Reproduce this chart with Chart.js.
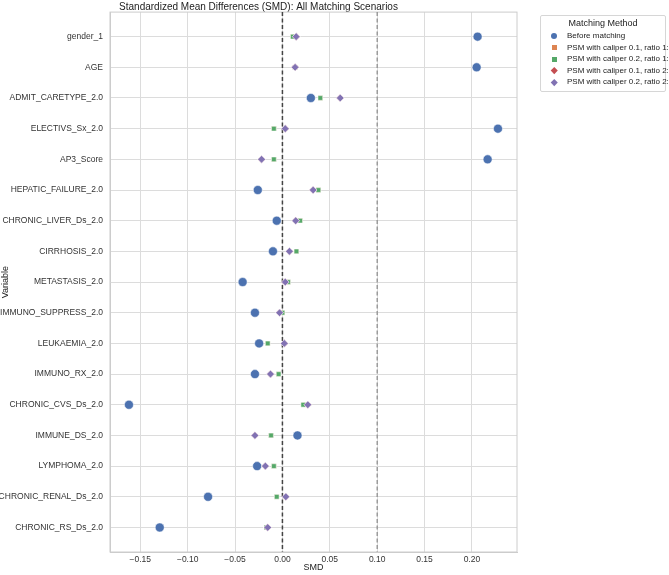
<!DOCTYPE html>
<html>
<head>
<meta charset="utf-8">
<script src="https://cdn.jsdelivr.net/npm/chart.js@4"></script>
<style>
  body { margin: 0; background: #fff; font-family: "Liberation Sans", Arial, sans-serif; }
  #wrap { position: relative; width: 669px; height: 575px; }
  #legend { position: absolute; left: 540px; top: 15px; width: 126px; border: 1px solid #d6d6d6; border-radius: 2px;
            font-family: "Liberation Sans", Arial, sans-serif; font-size: 8px; color: #222;
            padding: 2px 0 3px 0; background: #fff; box-sizing: border-box; }
  #legend .t { text-align: center; font-size: 9px; margin-bottom: 2px; }
  #legend .r { height: 11.6px; line-height: 11.6px; white-space: nowrap; }
  #legend .m { display: inline-block; width: 26px; text-align: center; vertical-align: middle; line-height: 0; }
</style>
</head>
<body>
<div id="wrap">
  <canvas id="smd_chart" width="669" height="575"></canvas>
  <div id="legend"></div>
</div>
<script>
const variables = ['gender_1', 'AGE', 'ADMIT_CARETYPE_2.0', 'ELECTIVS_Sx_2.0', 'AP3_Score', 'HEPATIC_FAILURE_2.0',
    'CHRONIC_LIVER_Ds_2.0', 'CIRRHOSIS_2.0', 'METASTASIS_2.0', 'IMMUNO_SUPPRESS_2.0', 'LEUKAEMIA_2.0',
    'IMMUNO_RX_2.0', 'CHRONIC_CVS_Ds_2.0', 'IMMUNE_DS_2.0', 'LYMPHOMA_2.0', 'CHRONIC_RENAL_Ds_2.0', 'CHRONIC_RS_Ds_2.0'];

const beforeMatching = [0.206, 0.205, 0.030, 0.2275, 0.2166, -0.026, -0.006, -0.010, -0.042, -0.029, -0.0246,
    -0.029, -0.162, 0.0159, -0.0267, -0.0785, -0.1295];
const cal01r11 = [0.011, 0.0134, 0.040, -0.009, -0.009, 0.038, 0.0187, 0.0148, 0.006, 0.000, -0.0155,
    -0.004, 0.022, -0.012, -0.009, -0.006, -0.017];
const cal02r11 = [0.011, 0.0134, 0.040, -0.009, -0.009, 0.038, 0.0187, 0.0148, 0.006, 0.000, -0.0155,
    -0.004, 0.022, -0.012, -0.009, -0.006, -0.017];
const cal01r21 = [0.0145, 0.0134, 0.061, 0.003, -0.022, 0.0324, 0.014, 0.0074, 0.003, -0.003, 0.002,
    -0.0126, 0.0268, -0.029, -0.018, 0.0036, -0.0155];
const cal02r21 = [0.0145, 0.0134, 0.061, 0.003, -0.022, 0.0324, 0.014, 0.0074, 0.003, -0.003, 0.002,
    -0.0126, 0.0268, -0.029, -0.018, 0.0036, -0.0155];

const xTicks = [-0.15, -0.10, -0.05, 0.00, 0.05, 0.10, 0.15, 0.20];

function toPoints(values) {
    return values.map((v, i) => ({ x: v, y: i }));
}

const series = [
    { label: 'Before matching', data: beforeMatching, color: '#4c72b0', style: 'circle', r: 4.5 },
    { label: 'PSM with caliper 0.1, ratio 1:1', data: cal01r11, color: '#dd8452', style: 'rect', r: 3.3 },
    { label: 'PSM with caliper 0.2, ratio 1:1', data: cal02r11, color: '#55a868', style: 'rect', r: 3.3 },
    { label: 'PSM with caliper 0.1, ratio 2:1', data: cal01r21, color: '#c44e52', style: 'rectRot', r: 3.8 },
    { label: 'PSM with caliper 0.2, ratio 2:1', data: cal02r21, color: '#8172b3', style: 'rectRot', r: 3.8 }
];

// dashed reference lines at 0 and 0.1, plus the full axes frame
const refLines = {
    id: 'refLines',
    beforeDatasetsDraw(chart) {
        const c = chart.ctx, a = chart.chartArea, x = chart.scales.x;
        c.save();
        c.strokeStyle = '#cccccc';
        c.lineWidth = 1;
        c.strokeRect(a.left, a.top, a.right - a.left, a.bottom - a.top);
        c.setLineDash([4, 2.5]);
        [[0, '#444', 1.5], [0.1, '#888', 1.2]].forEach(([v, col, w]) => {
            const px = x.getPixelForValue(v);
            c.strokeStyle = col;
            c.lineWidth = w;
            c.beginPath();
            c.moveTo(px, a.top);
            c.lineTo(px, a.bottom);
            c.stroke();
        });
        c.restore();
    }
};

const ctx = document.getElementById('smd_chart').getContext('2d');
new Chart(ctx, {
    type: 'scatter',
    data: {
        datasets: series.map((s, i) => ({
            label: s.label,
            data: toPoints(s.data),
            backgroundColor: s.color,
            borderColor: '#ffffff',
            borderWidth: 0.5,
            pointStyle: s.style,
            pointRadius: s.r,
            pointHoverRadius: s.r,
            order: series.length - i
        }))
    },
    options: {
        responsive: false,
        animation: false,
        layout: { padding: { top: 0, right: 152, bottom: 0, left: 0 } },
        plugins: {
            legend: { display: false },
            tooltip: { enabled: false },
            title: {
                display: true,
                text: 'Standardized Mean Differences (SMD): All Matching Scenarios',
                color: '#222',
                font: { family: 'Liberation Sans', size: 10, weight: 'normal', lineHeight: 1 },
                padding: { top: 1, bottom: 0 }
            }
        },
        scales: {
            x: {
                min: -0.182,
                max: 0.2476,
                afterFit(scale) { scale.height = 23; },
                afterBuildTicks(scale) { scale.ticks = xTicks.map(v => ({ value: v })); },
                ticks: {
                    color: '#333',
                    font: { family: 'Liberation Sans', size: 8.5 },
                    padding: 3,
                    callback: v => (v < 0 ? '\u2212' : '') + Math.abs(v).toFixed(2)
                },
                grid: { color: '#dcdcdc', tickLength: 0 },
                border: { color: '#cccccc' },
                title: {
                    display: true, text: 'SMD', color: '#222',
                    font: { family: 'Liberation Sans', size: 9 }, padding: { top: 0, bottom: 2 }
                }
            },
            y: {
                min: -0.8,
                max: 16.8,
                reverse: true,
                afterFit(scale) { scale.width = 110; },
                afterBuildTicks(scale) { scale.ticks = variables.map((v, i) => ({ value: i })); },
                ticks: {
                    color: '#333',
                    font: { family: 'Liberation Sans', size: 8.5 },
                    padding: 7,
                    callback: v => variables[v]
                },
                grid: { color: '#dcdcdc', tickLength: 0 },
                border: { color: '#cccccc' },
                title: {
                    display: true, text: 'Variable', color: '#222',
                    font: { family: 'Liberation Sans', size: 9 }, padding: { top: 0, bottom: 0 }
                }
            }
        }
    },
    plugins: [refLines]
});

// legend outside the axes, like the seaborn figure
const legend = document.getElementById('legend');
legend.innerHTML = '<div class="t">Matching Method</div>' + series.map(s => {
    let mark;
    if (s.style === 'circle') mark = `<span style="display:inline-block;width:6px;height:6px;border-radius:50%;background:${s.color}"></span>`;
    else if (s.style === 'rect') mark = `<span style="display:inline-block;width:5px;height:5px;background:${s.color}"></span>`;
    else mark = `<span style="display:inline-block;width:4.5px;height:4.5px;transform:rotate(45deg);background:${s.color}"></span>`;
    return `<div class="r"><span class="m">${mark}</span>${s.label}</div>`;
}).join('');
</script>
</body>
</html>
